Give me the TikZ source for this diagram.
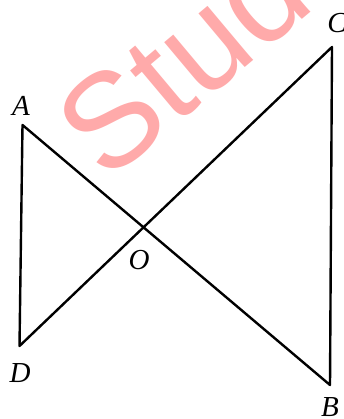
\documentclass[tikz,border=0pt]{standalone}
\usepackage{fontspec}
\setmainfont{Liberation Serif}
\newfontfamily\wmfont{Liberation Sans}
\definecolor{wmpink}{RGB}{255,170,170}
\begin{document}
\begin{tikzpicture}[x=1pt,y=1pt,
  seg/.style={line width=2.4pt, line join=round, line cap=round},
  ptlabel/.style={font=\fontsize{29}{29}\selectfont\itshape, inner sep=0pt},
  watermark/.style={font=\wmfont\fontsize{134}{134}\selectfont, text=wmpink, inner sep=0pt, rotate=40, anchor=base}]
\useasboundingbox (0,0) rectangle (344,419);
\clip (0,0) rectangle (344,419);
\node[watermark] (wm) at (212,324) {Stud};
\coordinate (A) at (22.5,294);
\coordinate (D) at (19.5,73);
\coordinate (C) at (332,372);
\coordinate (B) at (330,34);
\draw[seg] (A) -- (B) -- (C) -- (D) -- cycle;
\node[ptlabel] (lA) at (21,313) {A};
\node[ptlabel] (lC) at (337,396) {C};
\node[ptlabel] (lD) at (20,46) {D};
\node[ptlabel] (lB) at (330,12) {B};
\node[ptlabel] (lO) at (139,159) {O};
\end{tikzpicture}
\end{document}
